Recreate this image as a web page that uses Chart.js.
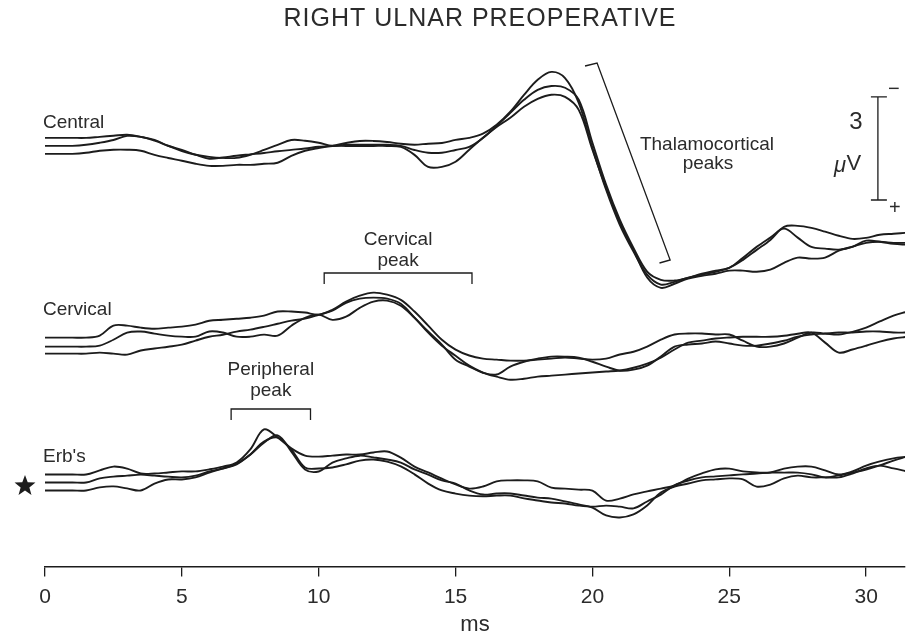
<!DOCTYPE html>
<html>
<head>
<meta charset="utf-8">
<title>Right ulnar preoperative</title>
<script src="https://cdn.jsdelivr.net/npm/chart.js@4.4.1/dist/chart.umd.min.js"></script>
<style>
  html, body { margin: 0; padding: 0; background: #fff; }
  #wrap { width: 910px; height: 635px; position: relative; }
</style>
</head>
<body>
<div id="wrap"><canvas id="chart-sep"></canvas></div>
<script>
// sample times (ms)
var timeMs = [0, 0.5, 1, 1.5, 2, 2.5, 3, 3.5, 4, 4.5, 5, 5.5, 6, 6.5, 7, 7.5,
  8, 8.5, 9, 9.5, 10, 10.5, 11, 11.5, 12, 12.5, 13, 13.5, 14, 14.5, 15, 15.5,
  16, 16.5, 17, 17.5, 18, 18.5, 19, 19.5, 20, 20.5, 21, 21.5, 22, 22.5, 23, 23.5,
  24, 24.5, 25, 25.5, 26, 26.5, 27, 27.5, 28, 28.5, 29, 29.5, 30, 30.5, 31, 31.5];

var xTicks = [0, 5, 10, 15, 20, 25, 30];
var channelNames = ['Central', 'Cervical', "Erb's"];

// potentials in uV, negative = up
var central1 = [0, 0, 0, 0, -0.03, -0.06, -0.09, -0.03, 0.06, 0.23, 0.35, 0.49, 0.61, 0.57, 0.52, 0.48,
  0.44, 0.39, 0.35, 0.31, 0.26, 0.23, 0.15, 0.09, 0.09, 0.12, 0.17, 0.20, 0.17, 0.15, 0.06, 0,
  -0.12, -0.38, -0.76, -1.25, -1.69, -1.92, -1.74, -1.02, 0.29, 1.51, 2.53, 3.31, 3.98, 4.27, 4.19, 4.07,
  3.98, 3.90, 3.78, 3.55, 3.26, 2.97, 2.59, 2.56, 2.62, 2.73, 2.85, 2.94, 2.91, 2.82, 2.79, 2.76];
var central2 = [0, 0, 0, -0.03, -0.09, -0.17, -0.29, -0.26, -0.15, 0, 0.15, 0.26, 0.32, 0.35, 0.35, 0.26,
  0.12, -0.03, -0.17, -0.15, -0.09, 0, -0.03, -0.03, -0.03, -0.03, 0, 0.12, 0.20, 0.20, 0.12, 0.03,
  -0.23, -0.58, -0.96, -1.34, -1.63, -1.74, -1.69, -1.34, -0.09, 1.13, 2.15, 2.97, 3.66, 3.90, 3.92, 3.84,
  3.72, 3.63, 3.55, 3.26, 2.94, 2.67, 2.41, 2.67, 2.94, 2.99, 3.02, 2.94, 2.76, 2.79, 2.85, 2.88];
var central3 = [0, 0, 0, -0.03, -0.09, -0.12, -0.12, -0.09, 0.03, 0.12, 0.20, 0.29, 0.35, 0.35, 0.32, 0.32,
  0.29, 0.26, 0.06, -0.09, -0.17, -0.23, -0.23, -0.23, -0.23, -0.23, -0.20, 0.03, 0.38, 0.38, 0.23, -0.12,
  -0.47, -0.78, -1.05, -1.37, -1.60, -1.72, -1.66, -1.28, -0.12, 0.99, 1.98, 2.79, 3.60, 3.90, 3.78, 3.63,
  3.55, 3.49, 3.40, 3.40, 3.43, 3.37, 3.17, 3.02, 3.05, 3.02, 2.82, 2.70, 2.59, 2.56, 2.59, 2.59];

var cervical1 = [0, 0, 0, 0, -0.06, -0.35, -0.35, -0.29, -0.26, -0.29, -0.32, -0.38, -0.49, -0.52, -0.55, -0.58,
  -0.64, -0.76, -0.76, -0.73, -0.67, -0.81, -1.05, -1.22, -1.31, -1.25, -1.10, -0.76, -0.35, 0.06, 0.35, 0.52,
  0.61, 0.64, 0.67, 0.67, 0.64, 0.61, 0.58, 0.61, 0.64, 0.61, 0.49, 0.41, 0.26, 0.06, -0.09, -0.12,
  -0.12, -0.09, -0.09, 0.09, 0.26, 0.26, 0.17, 0, -0.15, -0.12, -0.09, -0.17, -0.29, -0.47, -0.64, -0.76];
var cervical2 = [0, 0, 0, 0, -0.03, -0.20, -0.41, -0.44, -0.38, -0.32, -0.29, -0.29, -0.44, -0.41, -0.29, -0.29,
  -0.35, -0.32, -0.61, -0.84, -0.93, -0.78, -0.87, -1.13, -1.31, -1.34, -1.19, -0.84, -0.44, -0.06, 0.38, 0.58,
  0.76, 0.81, 0.58, 0.44, 0.35, 0.29, 0.29, 0.32, 0.44, 0.58, 0.70, 0.67, 0.55, 0.29, 0, -0.06,
  -0.09, -0.15, -0.09, -0.03, -0.03, -0.09, -0.17, -0.29, -0.35, -0.38, -0.41, -0.41, -0.44, -0.44, -0.41, -0.41];
var cervical3 = [0, 0, 0, 0, -0.03, 0, 0.03, -0.09, -0.15, -0.20, -0.26, -0.38, -0.49, -0.55, -0.64, -0.70,
  -0.78, -0.87, -0.96, -1.02, -1.13, -1.25, -1.48, -1.60, -1.63, -1.60, -1.45, -1.05, -0.61, -0.23, 0.06, 0.35,
  0.55, 0.67, 0.76, 0.73, 0.67, 0.64, 0.61, 0.58, 0.55, 0.52, 0.49, 0.41, 0.29, 0.12, -0.12, -0.32,
  -0.38, -0.44, -0.47, -0.49, -0.49, -0.49, -0.52, -0.58, -0.61, -0.32, -0.03, -0.12, -0.23, -0.35, -0.44, -0.49];

var erbs1 = [0, 0, 0, 0, -0.12, -0.23, -0.17, -0.03, -0.03, -0.06, -0.09, -0.09, -0.15, -0.23, -0.35, -0.73,
  -1.31, -1.08, -0.76, -0.55, -0.52, -0.55, -0.58, -0.58, -0.64, -0.67, -0.49, -0.23, -0.06, 0.12, 0.29, 0.41,
  0.35, 0.20, 0.17, 0.17, 0.20, 0.38, 0.41, 0.44, 0.47, 0.76, 0.70, 0.58, 0.49, 0.41, 0.32, 0.12,
  -0.03, -0.15, -0.17, -0.09, -0.06, -0.06, -0.17, -0.23, -0.23, -0.12, 0, -0.09, -0.26, -0.38, -0.47, -0.52];
var erbs2 = [0, 0, 0, 0, -0.12, -0.17, -0.20, -0.23, -0.20, -0.17, -0.15, -0.20, -0.32, -0.41, -0.55, -0.81,
  -1.16, -1.37, -0.90, -0.38, -0.32, -0.58, -0.70, -0.78, -0.73, -0.67, -0.58, -0.38, -0.23, -0.06, 0.03, 0.23,
  0.35, 0.32, 0.32, 0.38, 0.44, 0.47, 0.55, 0.64, 0.73, 0.96, 1.02, 0.93, 0.67, 0.29, 0.12, 0.03,
  -0.06, -0.09, -0.12, -0.09, 0.12, 0.06, -0.12, -0.20, -0.15, -0.15, -0.15, -0.26, -0.41, -0.49, -0.41, -0.32];
var erbs3 = [0, 0, 0, 0, -0.09, -0.12, -0.06, 0, -0.20, -0.32, -0.32, -0.38, -0.52, -0.64, -0.76, -1.05,
  -1.42, -1.54, -1.19, -0.67, -0.64, -0.67, -0.76, -0.87, -0.90, -0.84, -0.70, -0.47, -0.20, 0, 0.09, 0.15,
  0.17, 0.15, 0.15, 0.23, 0.29, 0.35, 0.38, 0.44, 0.47, 0.44, 0.47, 0.52, 0.32, 0.12, -0.15, -0.29,
  -0.38, -0.41, -0.44, -0.47, -0.49, -0.52, -0.52, -0.52, -0.47, -0.38, -0.44, -0.52, -0.61, -0.73, -0.87, -0.99];

var traces = [[central1, central2, central3], [cervical1, cervical2, cervical3], [erbs1, erbs2, erbs3]];

// marked latency windows (ms)
var peripheralPeak = [6.8, 9.7];
var cervicalPeak = [10.2, 15.6];
var calibrationUv = 3;

// layout: vertical scale and where each sweep sits
var PX_PER_UV = 34.4;
var AXIS_PX = 567;
var TRACE_BASE_PX = [[138, 146, 154], [338, 347, 354], [475, 483, 491]];
var LABEL_FONT = "'Liberation Sans', Arial, sans-serif";
var INK = '#1c1c1c';
var TEXT = '#2b2b2b';

function buildDatasets() {
  var sets = [];
  traces.forEach(function (group, i) {
    group.forEach(function (values, j) {
      var offset = TRACE_BASE_PX[i][j] / PX_PER_UV;
      sets.push({
        label: channelNames[i] + ' ' + (j + 1),
        data: timeMs.map(function (t, k) { return { x: t, y: offset + values[k] }; }),
        borderColor: INK,
        borderWidth: 1.9,
        tension: 0.35,
        pointRadius: 0,
        fill: false
      });
    });
  });
  return sets;
}

function drawStar(ctx, cx, cy, outer, inner) {
  ctx.beginPath();
  for (var i = 0; i < 10; i++) {
    var r = i % 2 === 0 ? outer : inner;
    var a = -Math.PI / 2 + i * Math.PI / 5;
    ctx.lineTo(cx + r * Math.cos(a), cy + r * Math.sin(a));
  }
  ctx.closePath();
  ctx.fill();
}

function bracket(ctx, x0, x1, y, drop) {
  ctx.beginPath();
  ctx.moveTo(x0, y + drop);
  ctx.lineTo(x0, y);
  ctx.lineTo(x1, y);
  ctx.lineTo(x1, y + drop);
  ctx.stroke();
}

var notes = {
  id: 'notes',
  afterDraw: function (chart) {
    var ctx = chart.ctx, xs = chart.scales.x, ys = chart.scales.y;
    ctx.save();
    ctx.fillStyle = TEXT;
    ctx.strokeStyle = INK;
    ctx.lineWidth = 1.3;
    ctx.textBaseline = 'middle';

    // heading
    ctx.textAlign = 'center';
    ctx.font = '25px ' + LABEL_FONT;
    ctx.letterSpacing = '1px';
    ctx.fillText('RIGHT ULNAR PREOPERATIVE', 480, 19);
    ctx.letterSpacing = '0px';

    // channel names
    ctx.textAlign = 'left';
    ctx.font = '19px ' + LABEL_FONT;
    var left = xs.getPixelForValue(0) - 2;
    ctx.fillText(channelNames[0], left, 123);
    ctx.fillText(channelNames[1], left, 310);
    ctx.fillText(channelNames[2], left, 457);
    ctx.fillStyle = INK;
    drawStar(ctx, 25, 486, 11, 4.6);
    ctx.fillStyle = TEXT;

    // peripheral peak
    ctx.textAlign = 'center';
    var p0 = xs.getPixelForValue(peripheralPeak[0]), p1 = xs.getPixelForValue(peripheralPeak[1]);
    ctx.fillText('Peripheral', (p0 + p1) / 2, 370);
    ctx.fillText('peak', (p0 + p1) / 2, 391);
    bracket(ctx, p0, p1, 409, 11);

    // cervical peak
    var c0 = xs.getPixelForValue(cervicalPeak[0]), c1 = xs.getPixelForValue(cervicalPeak[1]);
    ctx.fillText('Cervical', (c0 + c1) / 2, 240);
    ctx.fillText('peak', (c0 + c1) / 2, 261);
    bracket(ctx, c0, c1, 273, 11);

    // thalamocortical peaks, slanted bracket
    ctx.beginPath();
    ctx.moveTo(xs.getPixelForValue(19.73), 66);
    ctx.lineTo(xs.getPixelForValue(20.17), 63);
    ctx.lineTo(xs.getPixelForValue(22.84), 260);
    ctx.lineTo(xs.getPixelForValue(22.45), 263);
    ctx.stroke();
    ctx.fillText('Thalamocortical', 707, 145);
    ctx.fillText('peaks', 708, 164);

    // calibration bar
    var bx = xs.getPixelForValue(30.43);
    var top = ys.getPixelForValue(97 / PX_PER_UV);
    var bot = ys.getPixelForValue(97 / PX_PER_UV + calibrationUv);
    ctx.beginPath();
    ctx.moveTo(bx, top); ctx.lineTo(bx, bot);
    ctx.moveTo(bx - 7, top); ctx.lineTo(bx + 9, top);
    ctx.moveTo(bx - 7, bot); ctx.lineTo(bx + 9, bot);
    ctx.stroke();
    ctx.font = '24px ' + LABEL_FONT;
    ctx.fillText(String(calibrationUv), bx - 22, 122);
    ctx.font = 'italic 22px ' + LABEL_FONT;
    ctx.fillText('\u03bc', bx - 38, 166);
    ctx.font = '22px ' + LABEL_FONT;
    ctx.fillText('V', bx - 24, 164);
    ctx.font = '20px ' + LABEL_FONT;
    ctx.fillText('\u2212', bx + 16, 89);
    ctx.fillText('+', bx + 17, 208);
    ctx.restore();
  }
};

new Chart(document.getElementById('chart-sep'), {
  type: 'line',
  data: { datasets: buildDatasets() },
  options: {
    responsive: true,
    maintainAspectRatio: false,
    animation: false,
    devicePixelRatio: 1,
    layout: { padding: { left: 45, right: 5, top: 0, bottom: 0 } },
    plugins: {
      legend: { display: false },
      tooltip: { enabled: false },
      title: { display: false }
    },
    scales: {
      x: {
        type: 'linear',
        min: 0,
        max: 31.42,
        afterBuildTicks: function (axis) {
          axis.ticks = xTicks.map(function (v) { return { value: v }; });
        },
        border: { display: true, color: INK, width: 1.6 },
        grid: { drawOnChartArea: false, drawTicks: true, tickLength: 10, color: INK, lineWidth: 1.3 },
        ticks: {
          padding: 8,
          maxRotation: 0,
          color: TEXT,
          font: { family: LABEL_FONT, size: 21 }
        },
        title: {
          display: true,
          text: 'ms',
          color: TEXT,
          font: { family: LABEL_FONT, size: 22 },
          padding: { top: -6, bottom: -3 }
        }
      },
      y: {
        display: false,
        reverse: true,
        min: 0,
        max: AXIS_PX / PX_PER_UV
      }
    }
  },
  plugins: [notes]
});
</script>
</body>
</html>
